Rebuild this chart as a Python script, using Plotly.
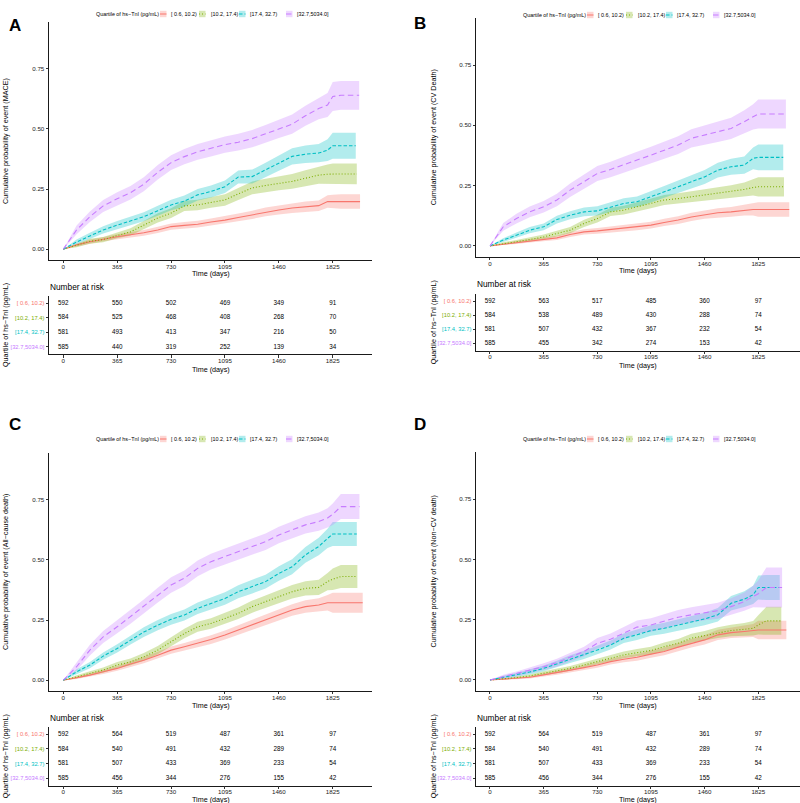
import plotly.graph_objects as go

# ---------------- data ----------------
DAYS = [0, 90, 180, 270, 365, 455, 545, 640, 730, 820, 910, 1000, 1095, 1185,
        1280, 1370, 1460, 1550, 1640, 1730, 1790, 1825, 1880]
RISK_DAYS = [0, 365, 730, 1095, 1460, 1825]
QUARTILES = ["[ 0.6, 10.2)", "[10.2, 17.4)", "[17.4, 32.7)", "[32.7,5034.0]"]
LEGEND_TITLE = "Quartile of hs−TnI (pg/mL)"
PANEL_LABELS = ["A", "B", "C", "D"]
Y_TITLES = ["Cumulative probability of event (MACE)",
            "Cumulative probability of event (CV Death)",
            "Cumulative probability of event (All−cause death)",
            "Cumulative probability of event (Non−CV death)"]
TABLE_TITLE = "Quartile of hs−TnI (pg/mL)"
X_TITLE = "Time (days)"
Y_TICKS = [0, 0.25, 0.5, 0.75]

# Panel A (MACE)
A_END = [2010, 1988, 1981, 2004]
A_Q1 = [0, .018, .031, .042, .052, .060, .068, .080, .094, .099, .104, .113, .121, .132, .143, .155, .163, .171, .177, .181, .198, .198, .198, .198]
A_Q2 = [0, .015, .033, .040, .058, .072, .100, .130, .150, .180, .184, .195, .205, .230, .255, .265, .274, .282, .295, .308, .312, .313, .313, .313]
A_Q3 = [0, .030, .055, .080, .100, .118, .135, .160, .184, .200, .226, .240, .260, .300, .302, .330, .358, .386, .395, .400, .412, .430, .430, .430]
A_Q4 = [0, .080, .135, .180, .210, .235, .270, .320, .360, .385, .405, .420, .435, .445, .460, .480, .500, .520, .555, .585, .600, .635, .640, .640]
A_Q1_BAND = [0, .006, .008, .009, .010, .011, .012, .013, .013, .014, .014, .015, .016, .016, .017, .018, .019, .020, .021, .022, .026, .028, .030, .030]
A_Q2_BAND = [0, .007, .010, .011, .013, .015, .017, .019, .020, .021, .022, .023, .024, .025, .027, .028, .029, .031, .033, .036, .040, .043, .043, .043]
A_Q3_BAND = [0, .010, .013, .015, .017, .018, .019, .021, .022, .023, .024, .025, .026, .027, .029, .030, .032, .034, .036, .038, .045, .054, .054, .054]
A_Q4_BAND = [0, .018, .022, .025, .027, .028, .029, .030, .031, .032, .033, .034, .034, .035, .036, .037, .038, .040, .042, .045, .050, .060, .060, .060]
A_RISK = [[592, 550, 502, 469, 349, 91],
          [584, 525, 468, 408, 268, 70],
          [581, 493, 413, 347, 216, 50],
          [585, 440, 319, 252, 139, 34]]

# Panel B (CV death)
B_END = [2036, 2000, 1995, 2013]
B_Q1 = [0, .007, .014, .021, .028, .033, .047, .058, .062, .068, .072, .079, .086, .097, .107, .120, .130, .137, .141, .148, .151, .151, .151, .151]
B_Q2 = [0, .010, .017, .026, .037, .051, .065, .093, .113, .141, .148, .162, .176, .190, .196, .203, .210, .217, .224, .234, .242, .245, .245, .245]
B_Q3 = [0, .024, .044, .065, .079, .109, .127, .141, .145, .162, .176, .183, .203, .224, .245, .266, .286, .314, .328, .335, .363, .367, .367, .367]
B_Q4 = [0, .079, .113, .141, .162, .190, .231, .266, .300, .317, .335, .356, .376, .397, .418, .446, .459, .473, .487, .515, .535, .547, .547, .547]
B_Q1_BAND = [0, .004, .006, .007, .008, .009, .010, .011, .012, .012, .013, .014, .014, .015, .016, .017, .018, .019, .020, .022, .025, .030, .030, .030]
B_Q2_BAND = [0, .005, .007, .008, .010, .012, .013, .015, .016, .017, .018, .019, .020, .021, .022, .023, .024, .025, .027, .029, .033, .040, .040, .040]
B_Q3_BAND = [0, .008, .011, .013, .014, .016, .017, .018, .019, .020, .021, .022, .023, .024, .026, .027, .029, .031, .033, .036, .045, .053, .053, .053]
B_Q4_BAND = [0, .016, .020, .022, .024, .026, .028, .030, .031, .032, .033, .034, .035, .036, .037, .038, .040, .042, .044, .047, .052, .060, .060, .060]
B_RISK = [[592, 563, 517, 485, 360, 97],
          [584, 538, 489, 430, 288, 74],
          [581, 507, 432, 367, 232, 54],
          [585, 455, 342, 274, 153, 42]]

# Panel C (all-cause death)
C_END = [2028, 1992, 1988, 2006]
C_Q1 = [0, .010, .021, .035, .049, .067, .083, .104, .125, .139, .153, .169, .188, .208, .229, .250, .271, .292, .306, .313, .322, .322, .322, .322]
C_Q2 = [0, .014, .028, .042, .063, .076, .097, .125, .160, .194, .222, .236, .257, .278, .306, .326, .347, .368, .382, .386, .410, .420, .431, .431]
C_Q3 = [0, .035, .063, .100, .132, .167, .200, .229, .253, .271, .299, .319, .340, .368, .389, .410, .444, .472, .521, .556, .590, .608, .608, .608]
C_Q4 = [0, .056, .125, .180, .222, .264, .306, .354, .396, .424, .465, .493, .514, .535, .556, .576, .604, .625, .646, .660, .675, .690, .722, .722]
C_Q1_BAND = [0, .005, .007, .009, .010, .012, .013, .014, .015, .016, .017, .018, .019, .020, .021, .022, .023, .024, .026, .028, .032, .042, .042, .042]
C_Q2_BAND = [0, .007, .009, .011, .013, .014, .016, .017, .019, .020, .021, .022, .023, .024, .025, .026, .027, .028, .030, .032, .036, .045, .048, .048]
C_Q3_BAND = [0, .010, .013, .015, .017, .019, .020, .021, .022, .023, .024, .025, .026, .027, .028, .029, .030, .031, .033, .036, .040, .050, .050, .050]
C_Q4_BAND = [0, .016, .022, .025, .027, .029, .030, .031, .032, .032, .033, .033, .033, .033, .033, .034, .034, .035, .036, .038, .040, .045, .052, .052]
C_RISK = [[592, 564, 519, 487, 361, 97],
          [584, 540, 491, 432, 289, 74],
          [581, 507, 433, 369, 233, 54],
          [585, 456, 344, 276, 155, 42]]

# Panel D (non-CV death)
D_END = [2016, 1982, 1971, 1987]
D_Q1 = [0, .003, .007, .011, .021, .030, .039, .051, .062, .076, .086, .094, .107, .118, .136, .152, .166, .187, .196, .201, .205, .207, .207, .207]
D_Q2 = [0, .004, .010, .017, .028, .037, .048, .062, .076, .090, .104, .113, .122, .138, .152, .173, .183, .196, .205, .210, .214, .228, .245, .245]
D_Q3 = [0, .011, .021, .033, .048, .066, .086, .104, .124, .145, .173, .187, .205, .214, .228, .242, .253, .270, .318, .335, .353, .383, .383, .383]
D_Q4 = [0, .014, .025, .039, .055, .072, .094, .118, .152, .169, .194, .219, .228, .242, .260, .270, .279, .287, .304, .325, .346, .357, .383, .383]
D_Q1_BAND = [0, .003, .004, .005, .007, .008, .009, .010, .011, .012, .013, .014, .015, .016, .017, .018, .019, .021, .022, .024, .027, .038, .038, .038]
D_Q2_BAND = [0, .003, .005, .006, .008, .009, .010, .011, .012, .013, .014, .015, .016, .017, .018, .019, .020, .022, .024, .026, .030, .040, .058, .058]
D_Q3_BAND = [0, .006, .008, .010, .012, .014, .016, .017, .018, .019, .020, .021, .022, .023, .024, .025, .026, .028, .030, .033, .038, .050, .052, .052]
D_Q4_BAND = [0, .008, .010, .012, .014, .016, .018, .020, .022, .024, .026, .027, .028, .029, .030, .031, .032, .033, .035, .038, .045, .055, .083, .083]
D_RISK = [[592, 564, 519, 487, 361, 97],
          [584, 540, 491, 432, 289, 74],
          [581, 507, 433, 369, 233, 54],
          [585, 456, 344, 276, 155, 42]]

PANEL_DATA = [
    (A_END, [A_Q1, A_Q2, A_Q3, A_Q4], [A_Q1_BAND, A_Q2_BAND, A_Q3_BAND, A_Q4_BAND], A_RISK),
    (B_END, [B_Q1, B_Q2, B_Q3, B_Q4], [B_Q1_BAND, B_Q2_BAND, B_Q3_BAND, B_Q4_BAND], B_RISK),
    (C_END, [C_Q1, C_Q2, C_Q3, C_Q4], [C_Q1_BAND, C_Q2_BAND, C_Q3_BAND, C_Q4_BAND], C_RISK),
    (D_END, [D_Q1, D_Q2, D_Q3, D_Q4], [D_Q1_BAND, D_Q2_BAND, D_Q3_BAND, D_Q4_BAND], D_RISK),
]

# ---------------- styles / layout (pixels) ----------------
W, H = 800, 803
FONT = "Liberation Sans, Arial, Helvetica, sans-serif"
COLORS = ["#F8766D", "#7CAE00", "#00BFC4", "#C77CFF"]
DASHES = ["solid", "1px,2px", "3.5px,2px", "5.5px,3.5px"]

PANELS = [
    dict(mx=(49, 372), my=(22, 260), xr=(-96.9, 2091), ty=(295.7, 354.3), nar=287,
         xtc=211, xtm=273.5, xtt=369, ytx=5, lab=(15, 25), lgx=95, lgy=14),
    dict(mx=(476, 800), my=(18, 256.7), xr=(-95.2, 2109), ty=(294, 350.5), nar=284,
         xtc=638, xtm=270, xtt=365, ytx=433, lab=(420, 23), lgx=522, lgy=15),
    dict(mx=(49, 372), my=(453, 691), xr=(-96.9, 2091), ty=(727, 785.5), nar=718,
         xtc=211, xtm=705, xtt=799, ytx=5, lab=(15, 424), lgx=95, lgy=439),
    dict(mx=(476, 800), my=(452, 690.8), xr=(-95.2, 2109), ty=(727, 785.5), nar=718,
         xtc=638, xtm=705, xtt=799, ytx=433, lab=(420, 424), lgx=522, lgy=439),
]
KEY_OFF = [65, 104, 144, 191]
TXT_OFF = [75, 115, 154, 201]


def PX(v):
    return v / W


def PY(v):
    return 1 - v / H


def rgba(h, a):
    h = h.lstrip("#")
    return "rgba(%d,%d,%d,%s)" % (int(h[0:2], 16), int(h[2:4], 16), int(h[4:6], 16), a)


fig = go.Figure()
layout = {}
annotations = []
shapes = []

axis_common = dict(showline=True, linecolor="#1a1a1a", linewidth=0.9, ticks="outside",
                   ticklen=2.5, tickwidth=0.8, tickcolor="#333333", showgrid=False,
                   zeroline=False, fixedrange=True, automargin=False,
                   tickfont=dict(size=6.2, color="#1a1a1a", family=FONT))

for i, (p, (ends, curves, bands, risk)) in enumerate(zip(PANELS, PANEL_DATA)):
    mi, ti = 2 * i + 1, 2 * i + 2
    mx_ref = "x" if mi == 1 else "x%d" % mi
    my_ref = "y" if mi == 1 else "y%d" % mi
    tx_ref, ty_ref = "x%d" % ti, "y%d" % ti
    mx_key = "xaxis" if mi == 1 else "xaxis%d" % mi
    my_key = "yaxis" if mi == 1 else "yaxis%d" % mi

    xdom = [PX(p["mx"][0]), PX(p["mx"][1])]
    layout[mx_key] = dict(axis_common, domain=xdom, range=list(p["xr"]), anchor=my_ref,
                          tickvals=RISK_DAYS, ticktext=[str(d) for d in RISK_DAYS],
                          ticklabelstandoff=-2)
    layout[my_key] = dict(axis_common, domain=[PY(p["my"][1]), PY(p["my"][0])],
                          range=[-0.045, 0.945], anchor=mx_ref,
                          tickvals=Y_TICKS, ticktext=["%.2f" % v for v in Y_TICKS])
    layout["xaxis%d" % ti] = dict(axis_common, domain=xdom, range=list(p["xr"]), anchor=ty_ref,
                                  tickvals=RISK_DAYS, ticktext=[str(d) for d in RISK_DAYS],
                                  ticklabelstandoff=-2)
    layout["yaxis%d" % ti] = dict(axis_common, domain=[PY(p["ty"][1]), PY(p["ty"][0])],
                                  range=[4.5, 0.5], anchor=tx_ref, tickvals=[1, 2, 3, 4],
                                  ticktext=['<span style="color:%s">%s</span>' % (c, q)
                                            for c, q in zip(COLORS, QUARTILES)])
    layout["yaxis%d" % ti]["tickfont"] = dict(size=5.8, family=FONT)

    # confidence bands
    for k in range(4):
        xs = DAYS + [ends[k]]
        hi = [e + b for e, b in zip(curves[k], bands[k])]
        lo = [max(e - b, 0) for e, b in zip(curves[k], bands[k])]
        fig.add_trace(go.Scatter(x=xs + xs[::-1], y=hi + lo[::-1], fill="toself",
                                 fillcolor=rgba(COLORS[k], 0.3), mode="lines",
                                 line=dict(width=0, color=rgba(COLORS[k], 0)),
                                 hoverinfo="skip", showlegend=False,
                                 xaxis=mx_ref, yaxis=my_ref))
    # survival curves
    for k in range(4):
        xs = DAYS + [ends[k]]
        fig.add_trace(go.Scatter(x=xs, y=curves[k], mode="lines",
                                 line=dict(color=COLORS[k], width=1.1, dash=DASHES[k]),
                                 showlegend=False, xaxis=mx_ref, yaxis=my_ref,
                                 name=QUARTILES[k]))
    # risk table
    for k in range(4):
        fig.add_trace(go.Scatter(x=RISK_DAYS, y=[k + 1] * len(RISK_DAYS), mode="text",
                                 text=[str(v) for v in risk[k]],
                                 textfont=dict(size=6.3, color="black", family=FONT),
                                 showlegend=False, xaxis=tx_ref, yaxis=ty_ref))

    xc = p["xtc"]
    # panel letter
    annotations.append(dict(text="<b>%s</b>" % PANEL_LABELS[i], x=PX(p["lab"][0]), y=PY(p["lab"][1]),
                            xref="paper", yref="paper", showarrow=False, xanchor="center",
                            yanchor="middle", font=dict(size=17, family=FONT, color="black")))
    # axis titles
    annotations.append(dict(text=X_TITLE, x=PX(xc), y=PY(p["xtm"]), xref="paper", yref="paper",
                            showarrow=False, xanchor="center", yanchor="middle", borderpad=0,
                            font=dict(size=7.2, family=FONT, color="black")))
    annotations.append(dict(text=X_TITLE, x=PX(xc), y=PY(p["xtt"]), xref="paper", yref="paper",
                            showarrow=False, xanchor="center", yanchor="middle", borderpad=0,
                            font=dict(size=7.2, family=FONT, color="black")))
    annotations.append(dict(text=Y_TITLES[i], x=PX(p["ytx"]), y=PY((p["my"][0] + p["my"][1]) / 2),
                            xref="paper", yref="paper", showarrow=False, textangle=-90,
                            xanchor="center", yanchor="middle", borderpad=0,
                            font=dict(size=7.2, family=FONT, color="black")))
    annotations.append(dict(text=TABLE_TITLE, x=PX(p["ytx"]), y=PY((p["ty"][0] + p["ty"][1]) / 2),
                            xref="paper", yref="paper", showarrow=False, textangle=-90,
                            xanchor="center", yanchor="middle", borderpad=0,
                            font=dict(size=7.2, family=FONT, color="black")))
    annotations.append(dict(text="Number at risk", x=PX(p["mx"][0]), y=PY(p["nar"]),
                            xref="paper", yref="paper", showarrow=False, xanchor="left",
                            yanchor="middle", borderpad=0,
                            font=dict(size=8.3, family=FONT, color="black")))
    # legend
    ly = p["lgy"]
    annotations.append(dict(text=LEGEND_TITLE, x=PX(p["lgx"]), y=PY(ly), xref="paper", yref="paper",
                            showarrow=False, xanchor="left", yanchor="middle", borderpad=0,
                            font=dict(size=5.4, family=FONT, color="black")))
    for k in range(4):
        kx = p["lgx"] + KEY_OFF[k]
        shapes.append(dict(type="rect", xref="paper", yref="paper", x0=PX(kx), x1=PX(kx + 6.5),
                           y0=PY(ly + 3.2), y1=PY(ly - 3.2), fillcolor=rgba(COLORS[k], 0.3),
                           line=dict(width=0)))
        shapes.append(dict(type="line", xref="paper", yref="paper", x0=PX(kx), x1=PX(kx + 6.5),
                           y0=PY(ly), y1=PY(ly), line=dict(color=COLORS[k], width=1,
                                                          dash=DASHES[k] if k else "solid")))
        annotations.append(dict(text=QUARTILES[k], x=PX(p["lgx"] + TXT_OFF[k]), y=PY(ly),
                                xref="paper", yref="paper", showarrow=False, xanchor="left",
                                yanchor="middle", borderpad=0,
                                font=dict(size=5.4, family=FONT, color="black")))

fig.update_layout(width=W, height=H, margin=dict(l=0, r=0, t=0, b=0), template="none",
                  paper_bgcolor="white", plot_bgcolor="white", showlegend=False,
                  font=dict(family=FONT, color="black"), annotations=annotations, shapes=shapes,
                  **layout)
fig.write_html("out.html")
